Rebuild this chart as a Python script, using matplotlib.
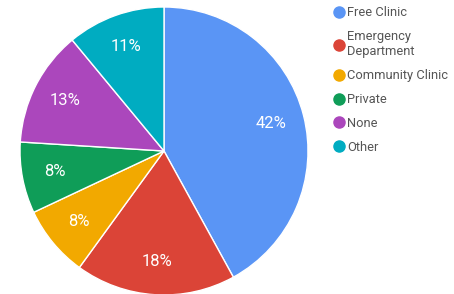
import matplotlib.pyplot as plt
from matplotlib.lines import Line2D

plt.rcParams["font.family"] = ["Roboto", "DejaVu Sans"]

labels = ["Free Clinic", "Emergency\nDepartment", "Community Clinic", "Private", "None", "Other"]
values = [42, 18, 8, 8, 13, 11]
colors = ["#5A95F5", "#DB4437", "#F2A900", "#0F9D58", "#AB47BC", "#00ACC1"]

fig = plt.figure(figsize=(4.54, 2.94), dpi=100)
ax = fig.add_axes([20 / 454, -1 / 294, 288 / 454, 288 / 294])

wedges, texts, autotexts = ax.pie(
    values, colors=colors, startangle=90, counterclock=False,
    autopct="%d%%", pctdistance=0.77,
    wedgeprops=dict(edgecolor="white", linewidth=1),
    textprops=dict(color="white", fontsize=12),
)
ax.set_xlim(-1.0, 1.0)
ax.set_ylim(-1.0, 1.0)
ax.set_aspect("equal")

handles = [Line2D([], [], marker="o", linestyle="", markersize=8,
                  markerfacecolor=c, markeredgecolor=c) for c in colors]
fig.legend(handles, labels, loc="upper left", bbox_to_anchor=(322 / 454, 1.01),
           frameon=False, fontsize=9.3, labelcolor="#555555",
           handletextpad=0.05, handlelength=1.2, labelspacing=0.85, borderpad=0.2)

fig.savefig("out.png", dpi=100)
